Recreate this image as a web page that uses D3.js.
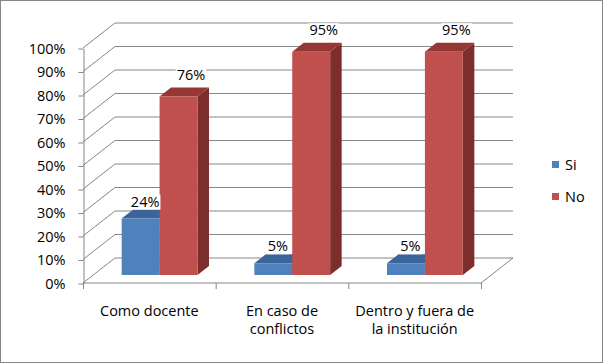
<!DOCTYPE html>
<html>
<head>
<meta charset="utf-8">
<script src="https://cdn.jsdelivr.net/npm/d3@7"></script>
<style>
  body { margin: 0; background: #fff; }
  text { font-family: "Open Sans", sans-serif; fill: #000; }
</style>
</head>
<body>
<svg id="chart" width="603" height="363"></svg>
<script>
const categories = ["Como docente", "En caso de conflictos", "Dentro y fuera de la institución"];
const series = ["Si", "No"];
const siValues = [0.24, 0.05, 0.05];
const noValues = [0.76, 0.95, 0.95];
const yTicks = [0, 0.1, 0.2, 0.3, 0.4, 0.5, 0.6, 0.7, 0.8, 0.9, 1];

const colors = {
  Si: { front: "#4f81bd", top: "#3b659a", side: "#2f5585" },
  No: { front: "#c0504d", top: "#943735", side: "#7d2e2c" }
};
// data label nudges per series (Excel placed them slightly differently)
const labelShift = { Si: { dx: -7, dy: -3 }, No: { dx: 1, dy: -7.5 } };

const W = 603, H = 363;
const DX = 32, DY = 25;          // depth of the floor
const Z0 = 0.32, Z1 = 0.68;      // bars sit in the middle of the depth
const grid = "#868686";

const svg = d3.select("#chart");

svg.append("rect")
  .attr("x", 0.5).attr("y", 0.5)
  .attr("width", W - 1).attr("height", H - 1)
  .attr("fill", "#fff").attr("stroke", grid);

const x = d3.scaleBand().domain(categories).range([83, 481]);
const xs = d3.scaleBand().domain(series).range([0, x.bandwidth()]).paddingOuter(0.75);
const y = d3.scaleLinear().domain([0, 1]).range([283, 48]);

const proj = (px, v, z) => [px + z * DX, y(v) - z * DY];
const poly = pts => "M" + pts.map(p => p.join(",")).join("L") + "Z";

// side wall + back wall gridlines
const g = svg.append("g").attr("fill", "none").attr("stroke", grid);
yTicks.forEach(t => {
  const a = proj(83, t, 0), b = proj(83, t, 1), c = proj(481, t, 1);
  g.append("path").attr("d", `M${a}L${b}L${c}`);
});
// floor
g.append("path").attr("d", `M${proj(83, 0, 0)}L${proj(481, 0, 0)}L${proj(481, 0, 1)}`);

// category ticks
const bounds = categories.map(c => x(c)).concat([x.range()[1]]);
bounds.forEach(b => {
  g.append("line").attr("x1", b + 0.5).attr("x2", b + 0.5).attr("y1", 283).attr("y2", 289);
});

// value axis
const yAxis = svg.append("g")
  .attr("transform", "translate(83.5,0.5)")
  .call(d3.axisLeft(y).tickValues(yTicks).tickFormat(d3.format(".0%")).tickSize(5).tickSizeOuter(0).tickPadding(13));
yAxis.select(".domain").attr("stroke", grid);
yAxis.selectAll(".tick line").attr("stroke", grid);
yAxis.selectAll("text").attr("font-size", 14.5).attr("font-family", "Open Sans");

// bars
const data = categories.map((c, i) => [
  { cat: c, s: "Si", v: siValues[i] },
  { cat: c, s: "No", v: noValues[i] }
]).flat();

const bars = svg.append("g");
data.forEach(d => {
  const x0 = x(d.cat) + xs(d.s), x1 = x0 + xs.bandwidth();
  const col = colors[d.s];
  bars.append("path").attr("fill", col.side)
    .attr("d", poly([proj(x1, 0, Z0), proj(x1, d.v, Z0), proj(x1, d.v, Z1), proj(x1, 0, Z1)]));
  bars.append("path").attr("fill", col.top)
    .attr("d", poly([proj(x0, d.v, Z0), proj(x1, d.v, Z0), proj(x1, d.v, Z1), proj(x0, d.v, Z1)]));
  bars.append("path").attr("fill", col.front)
    .attr("d", poly([proj(x0, 0, Z0), proj(x1, 0, Z0), proj(x1, d.v, Z0), proj(x0, d.v, Z0)]));
});

// data labels, on a white box, above everything
const dl = svg.append("g");
data.forEach(d => {
  const x0 = x(d.cat) + xs(d.s), x1 = x0 + xs.bandwidth();
  const sh = labelShift[d.s];
  const p = proj((x0 + x1) / 2, d.v, Z1);
  const box = dl.append("rect").attr("fill", "#fff");
  const t = dl.append("text")
    .attr("x", p[0] + sh.dx).attr("y", p[1] + sh.dy)
    .attr("text-anchor", "middle").attr("font-size", 14.5)
    .text(d3.format(".0%")(d.v));
  const bb = t.node().getBBox();
  box.attr("x", bb.x - 1).attr("y", bb.y + 3).attr("width", bb.width + 2).attr("height", bb.height - 4);
});

// category labels
const labels = svg.append("g");
categories.forEach(c => {
  const t = labels.append("text")
    .attr("x", x(c) + x.bandwidth() / 2).attr("y", 316)
    .attr("text-anchor", "middle").attr("font-size", 14.5);
  const words = c.split(" ");
  let line = [], tspan = t.append("tspan").attr("x", t.attr("x")).attr("dy", 0);
  words.forEach(w => {
    line.push(w);
    tspan.text(line.join(" "));
    if (tspan.node().getComputedTextLength() > 126 && line.length > 1) {
      line.pop();
      tspan.text(line.join(" "));
      line = [w];
      tspan = t.append("tspan").attr("x", t.attr("x")).attr("dy", 18).text(w);
    }
  });
});

// legend
const legend = svg.append("g");
series.forEach((s, i) => {
  const yy = 161 + i * 32;
  legend.append("rect").attr("x", 552).attr("y", yy).attr("width", 7).attr("height", 7)
    .attr("fill", colors[s].front);
  legend.append("text").attr("x", 565).attr("y", yy + 9).attr("font-size", 14.5).text(s);
});
</script>
</body>
</html>
